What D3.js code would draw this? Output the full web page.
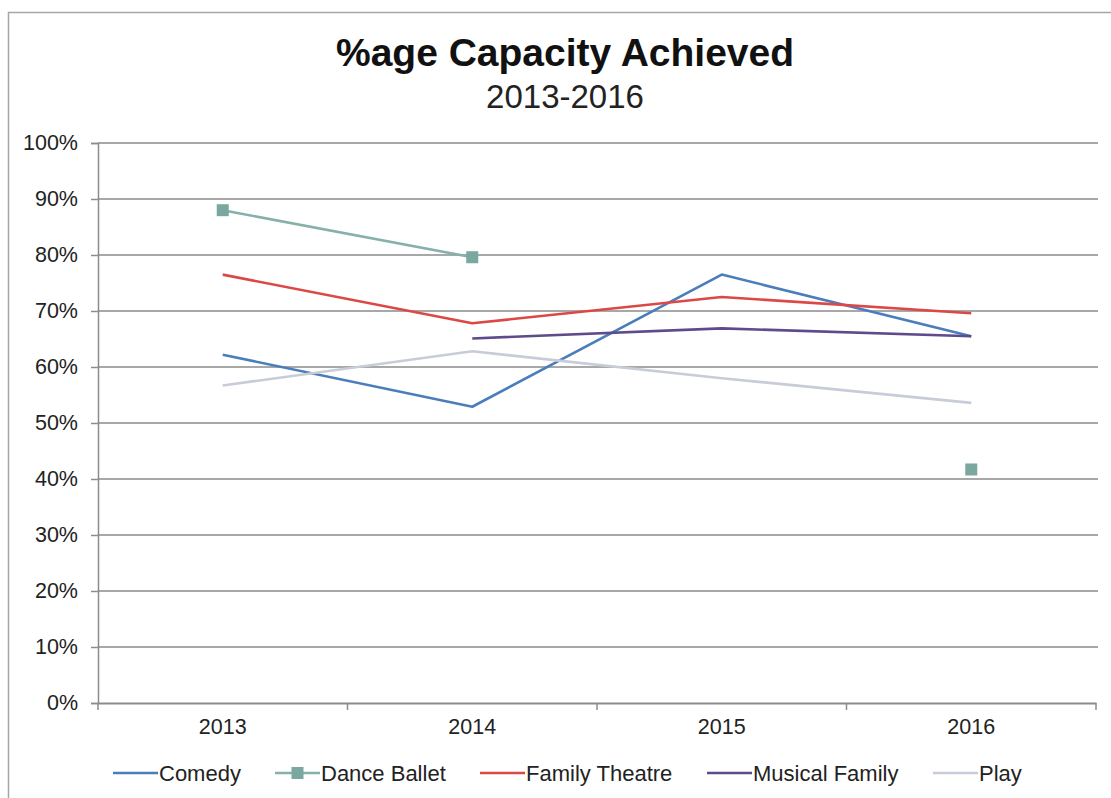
<!DOCTYPE html>
<html><head><meta charset="utf-8">
<script src="https://cdn.jsdelivr.net/npm/d3@7"></script>
<style>body{margin:0;background:#fff}svg{display:block;font-family:"Liberation Sans",Arial,sans-serif}</style>
</head><body>
<svg id="c" width="1111" height="798"></svg>
<script>
const years = ["2013","2014","2015","2016"];
const yTicks = [0,0.1,0.2,0.3,0.4,0.5,0.6,0.7,0.8,0.9,1.0];
const seriesNames = ["Comedy","Dance Ballet","Family Theatre","Musical Family","Play"];
const comedy = [0.622,0.529,0.765,0.655];
const danceBallet = [0.880,0.796,null,0.417];
const familyTheatre = [0.765,0.678,0.725,0.696];
const musicalFamily = [null,0.651,0.669,0.655];
const play = [0.567,0.628,0.580,0.536];
const seriesColors = ["#4a7ebb","#86b1aa","#dc4845","#5f4b8b","#c7ccd8"];
const markerColor = "#7aa8a0";

const svg = d3.select("#c");
const W = 1111, H = 798;
svg.append("rect").attr("x",8.5).attr("y",12.5).attr("width",1120).attr("height",800)
  .attr("fill","#fff").attr("stroke","#a6a6a6").attr("stroke-width",1.5);

const L = 98, R = 1096, T = 143, B = 703;
const x = d3.scaleBand().domain(years).range([L,R]);
const y = d3.scaleLinear().domain([0,1]).range([B,T]);

// gridlines
svg.append("g").selectAll("line").data(yTicks.filter(d=>d>0)).join("line")
  .attr("x1",L).attr("x2",R+2).attr("y1",d=>y(d)).attr("y2",d=>y(d))
  .attr("stroke","#a8a8a8").attr("stroke-width",2);

// y axis
const ya = svg.append("g").attr("transform",`translate(${L},0)`)
  .call(d3.axisLeft(y).tickValues(yTicks).tickFormat(d3.format(".0%")).tickSize(7).tickPadding(13));
ya.select(".domain").attr("stroke","#8c8c8c").attr("stroke-width",1.5);
ya.selectAll(".tick line").attr("stroke","#8c8c8c").attr("stroke-width",1.5);
ya.selectAll("text").attr("font-size",21.5).attr("fill","#222").attr("font-family","Liberation Sans, Arial, sans-serif");

// x axis
const xa = svg.append("g").attr("transform",`translate(0,${B})`)
  .call(d3.axisBottom(x).tickSize(0).tickPadding(16));
xa.select(".domain").attr("stroke","#8c8c8c").attr("stroke-width",2);
xa.selectAll("text").attr("font-size",21.5).attr("fill","#222").attr("font-family","Liberation Sans, Arial, sans-serif");
const bounds = years.map(d=>x(d)).concat([R]);
svg.append("g").selectAll("line").data(bounds).join("line")
  .attr("x1",d=>d).attr("x2",d=>d).attr("y1",B).attr("y2",B+7)
  .attr("stroke","#8c8c8c").attr("stroke-width",1.5);

const allSeries = [comedy,danceBallet,familyTheatre,musicalFamily,play];
const line = d3.line().defined(d=>d.v!=null)
  .x(d=>x(d.k)+x.bandwidth()/2).y(d=>y(d.v));

allSeries.forEach((vals,i)=>{
  const pts = years.map((k,j)=>({k, v: vals[j]}));
  svg.append("path").datum(pts).attr("d",line).attr("fill","none")
    .attr("stroke",seriesColors[i]).attr("stroke-width",2.6).attr("stroke-linejoin","round");
  if (seriesNames[i]==="Dance Ballet") {
    svg.append("g").selectAll("rect").data(pts.filter(d=>d.v!=null)).join("rect")
      .attr("x",d=>x(d.k)+x.bandwidth()/2-6).attr("y",d=>y(d.v)-6)
      .attr("width",12).attr("height",12).attr("fill",markerColor);
  }
});

// title
svg.append("text").attr("x",565).attr("y",66).attr("text-anchor","middle")
  .attr("font-size",39).attr("font-weight","bold").attr("fill","#111").text("%age Capacity Achieved");
svg.append("text").attr("x",565).attr("y",108).attr("text-anchor","middle")
  .attr("font-size",33).attr("fill","#222").text("2013-2016");

// legend
const legX = [113, 275, 480, 707, 933];
const ly = 773;
seriesNames.forEach((n,i)=>{
  const g = svg.append("g");
  g.append("line").attr("x1",legX[i]).attr("x2",legX[i]+45).attr("y1",ly).attr("y2",ly)
    .attr("stroke",seriesColors[i]).attr("stroke-width",2.6);
  if (n==="Dance Ballet") g.append("rect").attr("x",legX[i]+22.5-6).attr("y",ly-6)
    .attr("width",12).attr("height",12).attr("fill",markerColor);
  g.append("text").attr("x",legX[i]+46).attr("y",ly+8).attr("font-size",22).attr("fill","#222").text(n);
});
</script>
</body></html>
